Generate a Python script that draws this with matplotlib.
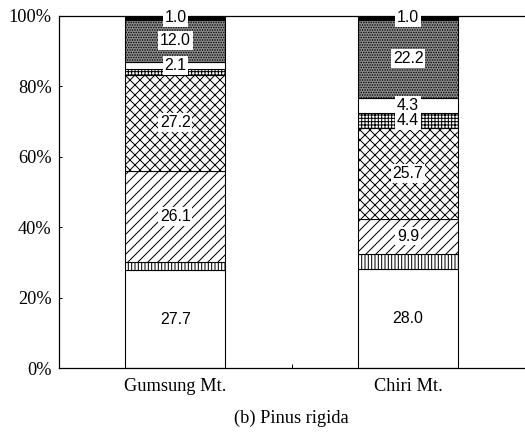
import matplotlib
matplotlib.use("Agg")
import matplotlib.pyplot as plt
from matplotlib.ticker import FuncFormatter

plt.rcParams["hatch.linewidth"] = 1.2
plt.rcParams["font.family"] = "Liberation Serif"

sites = ["Gumsung Mt.", "Chiri Mt."]

# Composition (%) stacked from the bottom of each bar
open_white = [27.7, 28.0]
vertical = [2.3, 4.5]
diagonal = [26.1, 9.9]
crossed = [27.2, 25.7]
dotted = [1.6, 4.4]
plain = [2.1, 4.3]
stipple = [12.0, 22.2]
solid = [1.0, 1.0]

layers = [open_white, vertical, diagonal, crossed, dotted, plain, stipple, solid]
faces = ["white", "white", "white", "white", "white", "white", "0.55", "black"]
hatches = [None, "|||", "//", "xx", "+++", None, "....", None]
# value labels are printed on these segments
show_label = [
    [True, True],
    [False, False],
    [True, True],
    [True, True],
    [False, True],
    [True, True],
    [True, True],
    [True, True],
]

xpos = [1, 3]
width = 0.86

fig = plt.figure(figsize=(8.75, 7.3), dpi=60)
ax = fig.add_axes([0.1124, 0.1598, 0.8866, 0.8037])

bottom = [0.0, 0.0]
for i, (vals, fc, h, flags) in enumerate(zip(layers, faces, hatches, show_label)):
    ax.bar(xpos, vals, width, bottom=bottom, color=fc, hatch=h,
           edgecolor="black", linewidth=1.3)
    for x, v, b, f in zip(xpos, vals, bottom, flags):
        if f:
            # lower labels stay on top where the boxes touch
            ax.text(x, b + v / 2, f"{v:.1f}", ha="center", va="center",
                    family="Liberation Sans", fontsize=19, zorder=10 - i * 0.1,
                    bbox=dict(facecolor="white", edgecolor="none", pad=2))
    bottom = [b + v for b, v in zip(bottom, vals)]

ax.set_xlim(0, 4)
ax.set_ylim(0, 100)
ax.set_yticks([0, 20, 40, 60, 80, 100])
ax.yaxis.set_major_formatter(FuncFormatter(lambda v, _: f"{v:.0f}%"))
ax.set_xticks(xpos)
ax.set_xticklabels(sites)
ax.set_xticks([x - width / 2 for x in xpos] + [2] + [x + width / 2 for x in xpos],
              minor=True)
ax.tick_params(axis="x", which="major", length=0, pad=12, labelsize=22)
ax.tick_params(axis="x", which="minor", direction="in", length=5, width=1.2)
ax.tick_params(axis="y", direction="in", length=4, width=1.2, pad=9, labelsize=22)

ax.spines["right"].set_visible(False)
for s in ["left", "bottom", "top"]:
    ax.spines[s].set_linewidth(1.5)

ax.set_xlabel("(b) Pinus rigida", fontsize=22, labelpad=18)

fig.savefig("out.png", dpi=60)
